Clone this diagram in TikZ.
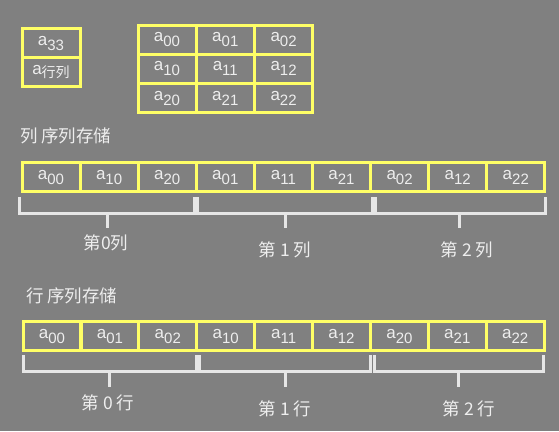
\documentclass[tikz,border=0pt]{standalone}
\usepackage{fontspec}
\setmainfont{Liberation Sans}
\newfontfamily\cjk{Noto Sans CJK SC}
\definecolor{bg}{RGB}{128,128,128}
\definecolor{cellline}{RGB}{255,255,102}
\definecolor{txt}{RGB}{238,238,238}
\definecolor{braceline}{RGB}{230,230,230}
\newcommand{\elem}[2][-5pt]{{\fontsize{17}{17}\selectfont a}\raisebox{#1}{\fontsize{15}{15}\selectfont #2}}

\begin{document}
\begin{tikzpicture}
[x=1pt,y=-1pt,every node/.style={text=txt,inner sep=0pt,outer sep=0pt},
cell/.style={draw=cellline,line width=3pt,minimum width=58pt,minimum height=29pt},
brace/.style={draw=braceline,line width=3pt},
label/.style={font=\cjk\fontsize{17.5}{17.5}\selectfont}]
\fill[bg] (0,0) rectangle (559,431);
\useasboundingbox (0,0) rectangle (559,431);
\node[cell] (s1) at (51,43) {\elem{33}};
\node[cell] (s2) at (51,72) {\elem[-3pt]{\cjk\fontsize{14}{14}\selectfont 行列}};
\foreach \i in {0,1,2}
\foreach \j in {0,1,2}
\node[cell] (m\i\j) at ({167+58.3*\j},{39.5+29.4*\i}) {\elem{\i\j}};
\node[label,anchor=west] (hc) at (20,136) {列 序列存储};
\foreach \j in {0,1,2}
\foreach \i in {0,1,2}
\node[cell] (c\i\j) at ({51+58.1*(3*\j+\i)},177) {\elem{\i\j}};
\foreach \l/\r/\t in {19/194/107,197/372/285,375/545/459}
\draw[brace] (\l,197) -- (\l,213) -- (\r,213) -- (\r,197) (\t,213) -- (\t,228);
\node[label] (lc0) at (106,243) {第0列};
\node[label] (lc1) at (285,250) {第 1 列};
\node[label] (lc2) at (467,250) {第 2 列};
\node[label,anchor=west] (hr) at (26,296) {行 序列存储};
\foreach \i in {0,1,2}
\foreach \j in {0,1,2}
\node[cell] (r\i\j) at ({52+57.9*(3*\i+\j)},336) {\elem{\i\j}};
\foreach \l/\r/\t in {23/196/109,199/370/285,374/543/458}
\draw[brace] (\l,355) -- (\l,371) -- (\r,371) -- (\r,355) (\t,371) -- (\t,387);
\node[label] (lr0) at (108,403) {第 0 行};
\node[label] (lr1) at (285,409) {第 1 行};
\node[label] (lr2) at (469,409) {第 2 行};
\end{tikzpicture}
\end{document}
